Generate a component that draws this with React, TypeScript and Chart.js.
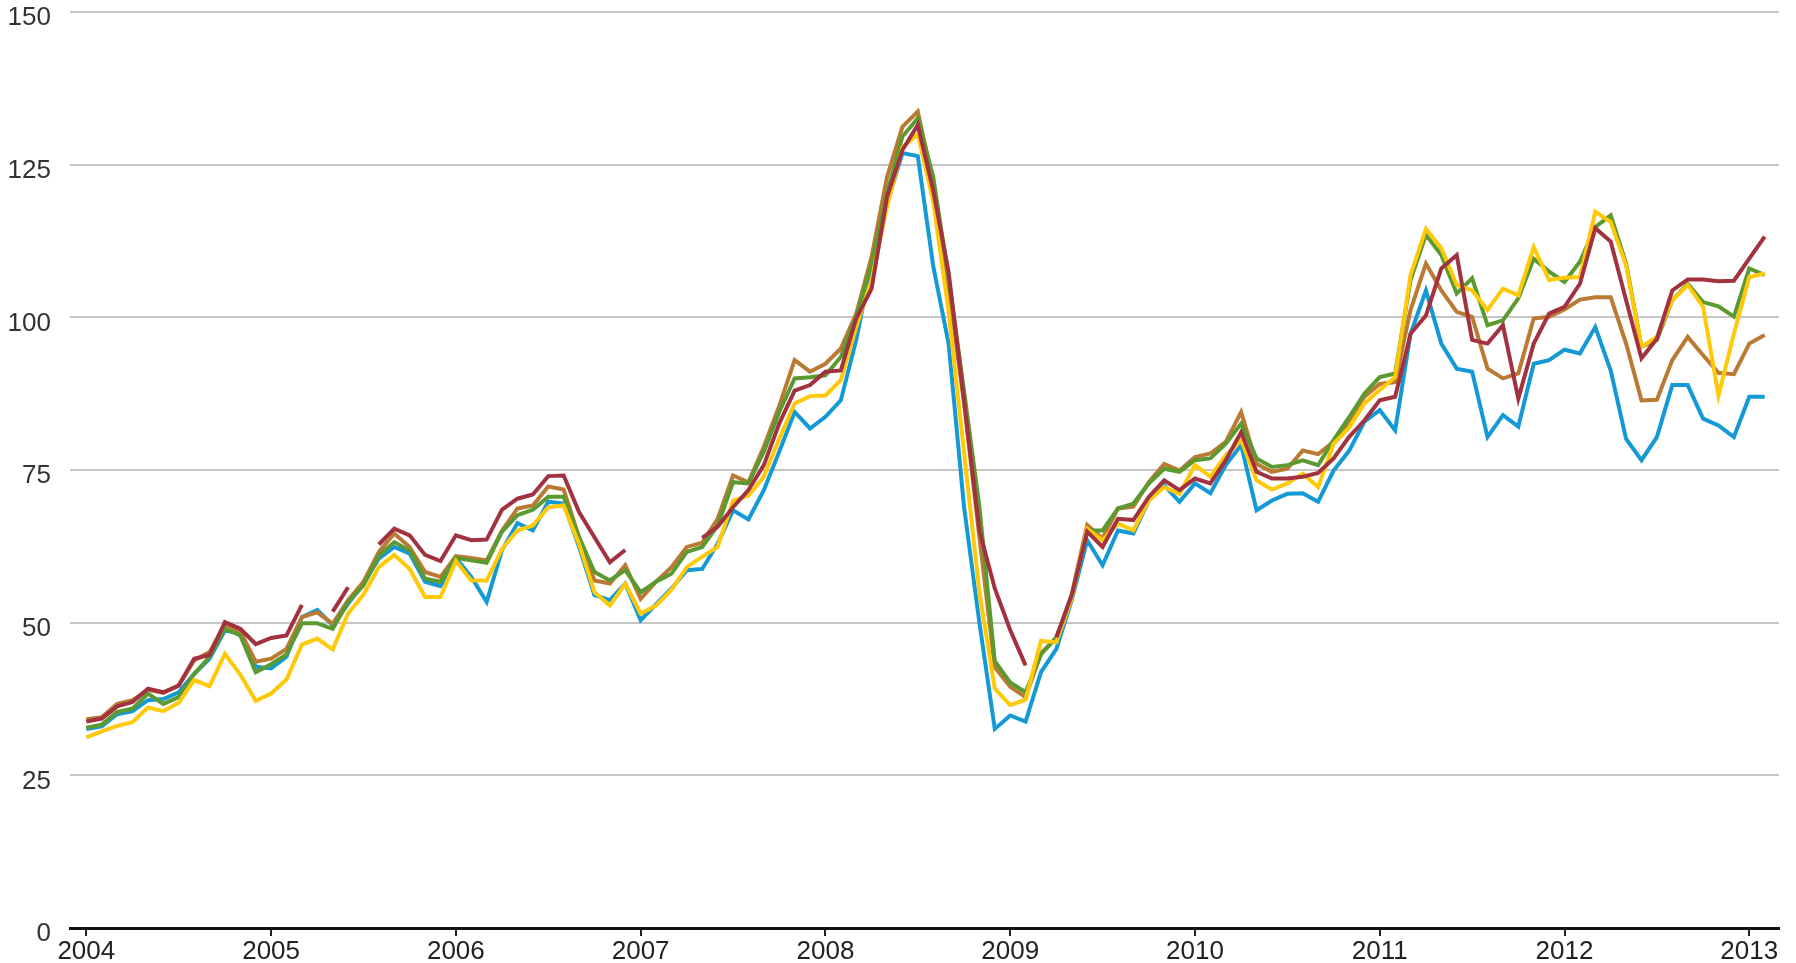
import React, { useEffect, useRef } from "react";
import { Chart, registerables } from "chart.js";

Chart.register(...registerables);

// Monthly categories Jan 2004 .. Feb 2013
const months: string[] = [];
for (let y = 2004; y <= 2013; y++) {
  for (let m = 1; m <= 12; m++) {
    if (y === 2013 && m > 2) break;
    months.push(`${y}-${String(m).padStart(2, "0")}`);
  }
}

const yearTickLabels = ["2004", "2005", "2006", "2007", "2008", "2009", "2010", "2011", "2012", "2013"];
const yTickValues = [0, 25, 50, 75, 100, 125, 150];

const blueSeries: (number | null)[] = [
  32.6, 33.0, 35.0, 35.5, 37.3, 37.5, 38.6, 41.6, 44.1, 48.7, 48.2, 42.8,
  42.5, 44.4, 50.9, 52.1, 49.6, 53.1, 56.4, 60.5, 62.4, 61.3, 56.7, 56.0,
  60.6, 57.5, 53.4, 61.9, 66.3, 65.1, 69.8, 69.5, 62.4, 54.5, 53.7, 56.4,
  50.4, 53.0, 55.6, 58.6, 58.8, 62.9, 68.4, 66.9, 71.7, 78.0, 84.5, 81.8,
  83.7, 86.4, 96.3, 108.8, 118.6, 126.9, 126.4, 108.4, 95.7, 69.0, 50.0, 32.6,
  34.8, 33.8, 41.9, 45.7, 53.7, 63.5, 59.4, 65.1, 64.6, 70.0, 72.5, 69.8,
  72.8, 71.2, 75.8, 79.1, 68.4, 70.0, 71.1, 71.2, 69.8, 74.9, 78.1, 82.9,
  84.8, 81.5, 97.3, 104.4, 95.7, 91.6, 91.1, 80.4, 84.0, 82.1, 92.4, 93.0,
  94.7, 94.1, 98.4, 91.3, 80.1, 76.6, 80.4, 88.9, 88.9, 83.4, 82.3, 80.4,
  87.0, 87.0,
];

const yellowSeries: (number | null)[] = [
  31.2, 32.2, 33.1, 33.7, 36.1, 35.5, 36.9, 40.6, 39.6, 44.9, 41.5, 37.2,
  38.4, 40.7, 46.4, 47.4, 45.6, 51.5, 54.6, 59.1, 61.1, 58.8, 54.2, 54.2,
  60.1, 56.9, 56.9, 62.1, 65.1, 65.9, 68.9, 69.2, 62.9, 55.0, 52.8, 56.4,
  51.5, 52.8, 55.4, 59.1, 60.8, 62.4, 70.0, 70.8, 73.9, 80.1, 85.9, 87.1,
  87.2, 89.7, 98.4, 106.1, 118.1, 127.8, 130.0, 119.0, 101.0, 78.0, 55.0, 39.2,
  36.5, 37.4, 47.0, 46.8, 54.0, 65.4, 63.5, 66.2, 65.1, 70.0, 72.2, 71.1,
  75.8, 73.9, 77.4, 79.9, 73.3, 71.8, 72.8, 74.4, 72.2, 79.3, 81.9, 85.9,
  88.1, 90.2, 106.9, 114.5, 111.3, 105.3, 104.4, 101.2, 104.7, 103.6, 111.5, 106.1,
  106.5, 106.6, 117.3, 115.6, 108.5, 95.2, 96.8, 102.8, 105.3, 101.7, 87.2, 97.3,
  106.6, 107.2,
];

const greenSeries: (number | null)[] = [
  32.8, 33.3, 35.4, 35.9, 38.4, 36.7, 37.8, 41.6, 44.4, 49.0, 47.9, 41.9,
  43.2, 44.8, 49.9, 49.9, 49.0, 53.4, 56.1, 61.0, 63.2, 61.8, 57.2, 56.7,
  60.6, 60.2, 59.8, 64.9, 67.6, 68.5, 70.6, 70.6, 64.0, 58.3, 56.9, 58.6,
  55.0, 56.7, 58.0, 61.6, 62.4, 65.9, 73.0, 72.8, 78.0, 84.5, 90.0, 90.2,
  90.5, 93.5, 100.1, 108.8, 120.3, 129.6, 132.6, 123.0, 106.5, 88.0, 69.0, 43.7,
  40.2, 38.6, 44.8, 47.6, 54.2, 65.1, 65.1, 68.7, 69.5, 72.8, 75.2, 74.7,
  76.6, 76.9, 79.3, 82.6, 76.9, 75.5, 75.8, 76.6, 75.8, 79.9, 83.6, 87.5,
  90.2, 90.8, 106.1, 113.5, 110.2, 103.9, 106.4, 98.7, 99.5, 103.1, 109.6, 107.5,
  105.8, 109.1, 114.8, 116.7, 108.8, 95.2, 96.3, 102.8, 105.5, 102.5, 101.8, 100.1,
  108.0, 106.9,
];

const orangeSeries: (number | null)[] = [
  34.2, 34.5, 36.7, 37.3, 39.0, 38.5, 39.7, 43.8, 45.2, 49.7, 48.6, 43.6,
  44.1, 45.7, 50.9, 51.7, 49.8, 53.7, 56.7, 61.6, 64.6, 62.4, 58.3, 57.5,
  60.9, 60.6, 60.2, 65.1, 68.7, 69.2, 72.3, 71.8, 64.0, 56.9, 56.4, 59.4,
  53.9, 56.7, 59.1, 62.4, 63.1, 67.0, 74.1, 73.0, 78.8, 85.5, 93.0, 91.1,
  92.4, 94.9, 100.6, 109.9, 123.0, 131.2, 133.7, 122.0, 105.0, 86.0, 64.0, 42.7,
  39.5, 37.8, 45.0, 47.5, 54.7, 66.0, 63.8, 68.7, 69.0, 73.0, 76.0, 74.9,
  77.1, 77.7, 79.6, 84.5, 76.0, 74.7, 75.2, 78.2, 77.6, 79.6, 82.8, 87.0,
  89.1, 89.4, 101.2, 108.8, 104.4, 100.9, 100.1, 91.6, 90.0, 90.8, 99.8, 100.1,
  101.3, 102.9, 103.3, 103.3, 95.7, 86.4, 86.5, 93.0, 96.8, 93.8, 90.9, 90.7,
  95.7, 97.1,
];

const redSeries: (number | null)[] = [
  33.8, 34.3, 36.3, 37.0, 39.2, 38.6, 39.7, 44.1, 44.7, 50.1, 49.0, 46.5,
  47.5, 47.9, 52.9, null, 51.8, 55.8, null, 62.8, 65.4, 64.3, 61.1, 60.1,
  64.3, 63.5, 63.6, 68.5, 70.3, 71.0, 74.0, 74.1, 68.1, 64.0, 59.9, 61.9,
  null, null, null, null, 63.9, 65.7, 68.9, 71.7, 75.8, 82.6, 88.0, 88.9,
  91.1, 91.3, 99.8, 104.7, 119.7, 127.4, 131.5, 120.8, 107.4, 86.4, 65.1, 55.6,
  48.8, 43.0, null, 47.6, 54.5, 64.9, 62.4, 67.0, 66.8, 70.6, 73.3, 71.7,
  73.6, 72.8, 76.6, 81.2, 74.7, 73.6, 73.6, 73.9, 74.5, 76.9, 80.4, 83.1,
  86.4, 87.0, 97.3, 100.3, 108.0, 110.2, 96.3, 95.7, 98.7, 86.7, 95.7, 100.6,
  101.7, 105.5, 114.6, 112.4, 102.8, 93.3, 96.5, 104.4, 106.2, 106.2, 105.9, 106.0,
  109.6, 113.2,
];

const seriesDefs = [
  { key: "red", values: redSeries, color: "#a2323f", order: 0 },
  { key: "yellow", values: yellowSeries, color: "#ffc907", order: 1 },
  { key: "green", values: greenSeries, color: "#5b9a30", order: 2 },
  { key: "orange", values: orangeSeries, color: "#bb7a34", order: 3 },
  { key: "blue", values: blueSeries, color: "#139ad6", order: 4 },
];

const FONT_FAMILY = "'Liberation Sans', Arial, sans-serif";

export default function App() {
  const canvasRef = useRef<HTMLCanvasElement | null>(null);

  useEffect(() => {
    document.body.style.margin = "0";
    const canvas = canvasRef.current;
    if (!canvas) return;

    const datasets = seriesDefs.map((s) => ({
      label: s.key,
      data: months.map((_, i) => ({ x: i, y: s.values[i] })),
      borderColor: s.color,
      backgroundColor: s.color,
      borderWidth: 4,
      pointRadius: 0,
      tension: 0,
      spanGaps: false,
      fill: false,
      order: s.order,
      borderJoinStyle: "miter" as const,
      borderCapStyle: "butt" as const,
    }));

    const chart = new Chart(canvas, {
      type: "line",
      data: { datasets: datasets as any },
      options: {
        animation: false,
        responsive: false,
        devicePixelRatio: 1,
        parsing: false as any,
        normalized: true,
        layout: { padding: { top: 12, right: 17, left: 0, bottom: 0 } },
        plugins: {
          legend: { display: false },
          tooltip: { enabled: false },
        },
        scales: {
          x: {
            type: "linear",
            min: -1.06,
            max: 109.93,
            afterBuildTicks: (scale: any) => {
              scale.ticks = yearTickLabels.map((_, k) => ({ value: k * 12 }));
            },
            afterFit: (scale: any) => {
              scale.height = 35;
              scale.paddingLeft = 0;
              scale.paddingRight = 0;
            },
            grid: {
              drawOnChartArea: false,
              drawTicks: true,
              tickLength: 8,
              color: "#222",
              lineWidth: 2,
            },
            border: { display: true, color: "#111", width: 3 },
            ticks: {
              autoSkip: false,
              maxRotation: 0,
              padding: 3,
              color: "#222",
              font: { family: FONT_FAMILY, size: 26, lineHeight: 1 },
              callback: (value: any) => {
                const m = months[Math.round(Number(value))];
                return m ? m.slice(0, 4) : "";
              },
            },
          },
          y: {
            min: 0,
            max: 150,
            afterBuildTicks: (scale: any) => {
              scale.ticks = yTickValues.map((v) => ({ value: v }));
            },
            afterFit: (scale: any) => {
              scale.width = 70;
              scale.paddingTop = 0;
              scale.paddingBottom = 0;
            },
            grid: {
              drawTicks: false,
              lineWidth: 2,
              color: (ctx: any) => (ctx.tick && ctx.tick.value === 0 ? "rgba(0,0,0,0)" : "#c6c6c6"),
            },
            border: { display: false },
            ticks: {
              padding: 19,
              labelOffset: 6,
              color: "#333",
              font: { family: FONT_FAMILY, size: 26, lineHeight: 1 },
            },
          },
        },
      },
    });

    return () => {
      chart.destroy();
    };
  }, []);

  return (
    <div style={{ width: 1796, height: 963, background: "#fff" }}>
      <canvas ref={canvasRef} width={1796} height={963} style={{ display: "block" }} />
    </div>
  );
}
